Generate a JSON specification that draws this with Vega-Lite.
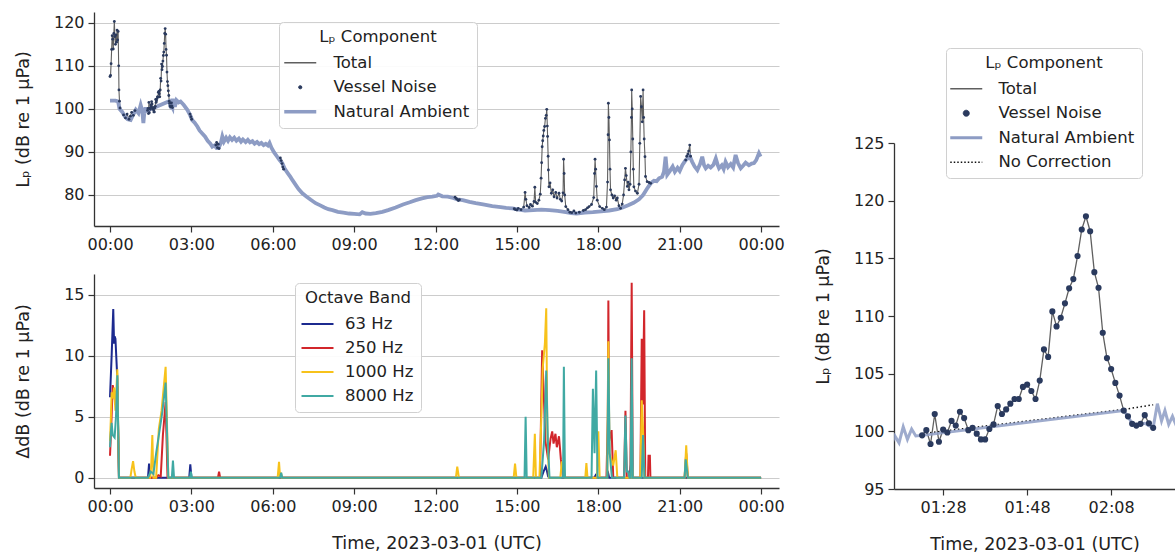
{
  "$schema": "https://vega.github.io/schema/vega-lite/v6.json",
  "padding": {"left": 14, "top": 12, "right": 0, "bottom": 0},
  "config": {
    "font": "DejaVu Sans",
    "view": {"stroke": null},
    "axis": {"domainColor": "#333333", "domainWidth": 1.3, "tickColor": "#333333", "tickWidth": 1.2, "tickSize": 6, "labelFontSize": 16, "labelColor": "#222222", "titleFontSize": 17.5, "titleFontWeight": "normal", "titleColor": "#222222", "labelPadding": 4, "titlePadding": 20, "gridColor": "#cccccc", "gridWidth": 1.1},
    "legend": {"labelFontSize": 16.5, "titleFontSize": 16.5, "titleFontWeight": "normal", "labelColor": "#222222", "titleColor": "#222222", "labelAlign": "left"}
  },
  "datasets": {
    "amb": [
      {"t":0,"v":101.9},{"t":0.1,"v":101.9},{"t":0.2,"v":101.9},{"t":0.3,"v":101.7},{"t":0.35,"v":100.0},{"t":0.45,"v":99.3},{"t":0.55,"v":98.2},{"t":0.65,"v":97.6},{"t":0.76,"v":97.4},{"t":0.85,"v":98.6},{"t":0.95,"v":99.8},{"t":1.05,"v":99.0},{"t":1.13,"v":100.9},{"t":1.19,"v":99.5},{"t":1.23,"v":96.7},
      {"t":1.2583,"v":98.7},{"t":1.275,"v":99.6},{"t":1.2917,"v":99.0},{"t":1.3083,"v":100.4},{"t":1.325,"v":99.3},{"t":1.3417,"v":100.2},{"t":1.3583,"v":99.6},{"t":1.3833,"v":99.65},{"t":2.1833,"v":101.8},{"t":2.2,"v":101.3},{"t":2.2167,"v":100.65},{"t":2.2333,"v":100.5},{"t":2.25,"v":100.6},{"t":2.2667,"v":100.7},{"t":2.2833,"v":100.5},{"t":2.3,"v":100.3},{"t":2.3167,"v":102.4},{"t":2.3333,"v":100.9},{"t":2.3467,"v":101.8},{"t":2.3617,"v":100.6},{"t":2.3767,"v":101.3},{"t":2.3917,"v":100.5},
      {"t":2.45,"v":102.0},{"t":2.53,"v":101.5},{"t":2.6,"v":101.7},{"t":2.72,"v":100.9},{"t":2.85,"v":99.8},{"t":2.95,"v":98.6},{"t":3.03,"v":97.4},{"t":3.12,"v":96.8},{"t":3.22,"v":95.9},{"t":3.3,"v":95.0},{"t":3.4,"v":94.3},{"t":3.5,"v":93.6},{"t":3.6,"v":92.6},{"t":3.7,"v":91.9},{"t":3.77,"v":91.2},{"t":3.85,"v":91.5},{"t":3.93,"v":90.9},{"t":4.0,"v":90.9},{"t":4.08,"v":92.0},{"t":4.14,"v":93.6},{"t":4.2,"v":92.4},{"t":4.28,"v":93.3},{"t":4.35,"v":92.6},{"t":4.42,"v":93.4},{"t":4.5,"v":92.8},{"t":4.58,"v":93.3},{"t":4.66,"v":92.6},{"t":4.75,"v":93.1},{"t":4.83,"v":92.4},{"t":4.9,"v":92.9},{"t":5.0,"v":92.3},{"t":5.08,"v":92.8},{"t":5.16,"v":92.2},{"t":5.25,"v":92.5},{"t":5.33,"v":91.9},{"t":5.42,"v":92.3},{"t":5.5,"v":91.8},{"t":5.58,"v":92.1},{"t":5.66,"v":91.6},{"t":5.74,"v":91.9},{"t":5.82,"v":91.5},{"t":5.88,"v":92.1},{"t":5.95,"v":91.0},{"t":6.05,"v":89.9},{"t":6.15,"v":89.0},{"t":6.25,"v":88.1},{"t":6.35,"v":87.4},{"t":6.45,"v":86.0},{"t":6.55,"v":85.1},{"t":6.65,"v":84.2},{"t":6.72,"v":83.5},{"t":6.85,"v":82.3},{"t":6.95,"v":81.4},{"t":7.09,"v":80.4},{"t":7.25,"v":79.6},{"t":7.4,"v":78.9},{"t":7.58,"v":78.1},{"t":7.75,"v":77.6},{"t":7.9,"v":77.1},{"t":8.05,"v":76.7},{"t":8.2,"v":76.5},{"t":8.4,"v":76.1},{"t":8.6,"v":75.9},{"t":8.81,"v":75.7},{"t":9.0,"v":75.6},{"t":9.2,"v":75.5},{"t":9.3,"v":76.0},{"t":9.42,"v":75.7},{"t":9.6,"v":75.6},{"t":9.8,"v":75.8},{"t":10.04,"v":76.1},{"t":10.25,"v":76.5},{"t":10.53,"v":77.1},{"t":10.8,"v":77.8},{"t":11.05,"v":78.3},{"t":11.27,"v":78.8},{"t":11.5,"v":79.2},{"t":11.7,"v":79.5},{"t":11.88,"v":79.6},{"t":12.05,"v":79.8},{"t":12.1,"v":80.1},{"t":12.25,"v":79.7},{"t":12.45,"v":79.6},{"t":12.65,"v":79.3},{"t":12.8,"v":79.0},{"t":13.0,"v":78.8},{"t":13.25,"v":78.4},{"t":13.48,"v":78.1},{"t":13.75,"v":77.8},{"t":14.09,"v":77.4},{"t":14.4,"v":77.2},{"t":14.6,"v":77.0},{"t":14.83,"v":76.9},{"t":15.07,"v":76.6},{"t":15.3,"v":76.4},{"t":15.6,"v":76.5},{"t":15.9,"v":76.6},{"t":16.2,"v":76.5},{"t":16.5,"v":76.3},{"t":16.8,"v":76.0},{"t":17.0,"v":75.8},{"t":17.2,"v":75.7},{"t":17.5,"v":75.9},{"t":17.8,"v":76.0},{"t":18.1,"v":76.2},{"t":18.4,"v":76.4},{"t":18.7,"v":76.7},{"t":18.9,"v":77.1},{"t":19.1,"v":77.6},{"t":19.3,"v":78.2},{"t":19.5,"v":79.0},{"t":19.65,"v":80.0},{"t":19.8,"v":81.5},{"t":19.93,"v":82.7},{"t":20.05,"v":83.3},{"t":20.15,"v":83.2},{"t":20.24,"v":83.9},{"t":20.35,"v":84.2},{"t":20.42,"v":85.4},{"t":20.48,"v":88.9},{"t":20.54,"v":84.7},{"t":20.64,"v":85.6},{"t":20.74,"v":86.6},{"t":20.82,"v":85.4},{"t":20.92,"v":86.3},{"t":21.0,"v":85.6},{"t":21.1,"v":87.0},{"t":21.22,"v":88.1},{"t":21.3,"v":88.5},{"t":21.37,"v":89.0},{"t":21.46,"v":87.7},{"t":21.55,"v":86.6},{"t":21.65,"v":85.8},{"t":21.75,"v":87.2},{"t":21.83,"v":88.9},{"t":21.9,"v":86.9},{"t":21.96,"v":86.2},{"t":22.05,"v":86.8},{"t":22.14,"v":86.4},{"t":22.24,"v":87.0},{"t":22.33,"v":88.5},{"t":22.4,"v":87.0},{"t":22.45,"v":86.2},{"t":22.55,"v":86.9},{"t":22.62,"v":86.0},{"t":22.69,"v":87.7},{"t":22.78,"v":86.5},{"t":22.88,"v":87.2},{"t":22.97,"v":86.4},{"t":23.06,"v":89.3},{"t":23.15,"v":87.4},{"t":23.25,"v":86.2},{"t":23.35,"v":86.9},{"t":23.43,"v":87.5},{"t":23.55,"v":86.9},{"t":23.65,"v":87.3},{"t":23.74,"v":87.4},{"t":23.82,"v":88.1},{"t":23.92,"v":89.7},{"t":23.98,"v":88.9}
    ],
    "ves": [
      {"t":0,"v":107.5,"e":1},{"t":0.02,"v":107.8,"e":1},{"t":0.04,"v":110.5,"e":1},{"t":0.06,"v":113.8,"e":1},{"t":0.08,"v":117.0,"e":1},{"t":0.1,"v":116.2,"e":1},{"t":0.12,"v":113.9,"e":1},{"t":0.14,"v":117.5,"e":1},{"t":0.16,"v":120.3,"e":1},{"t":0.18,"v":116.8,"e":1},{"t":0.2,"v":115.0,"e":1},{"t":0.22,"v":117.2,"e":1},{"t":0.24,"v":115.5,"e":1},{"t":0.26,"v":118.3,"e":1},{"t":0.28,"v":116.0,"e":1},{"t":0.3,"v":118.0,"e":1},{"t":0.32,"v":110.0,"e":1},{"t":0.33,"v":104.4,"e":1},{"t":0.35,"v":101.8,"e":1},{"t":0.37,"v":100.2,"e":1},
      {"t":0.5,"v":98.6,"e":2},{"t":0.57,"v":97.9,"e":2},{"t":0.63,"v":98.8,"e":2},{"t":0.7,"v":97.6,"e":2},{"t":0.75,"v":98.3,"e":2},{"t":0.8,"v":99.2,"e":2},{"t":0.86,"v":98.5,"e":2},{"t":0.92,"v":99.6,"e":2},
      {"t":1.3833,"v":99.65,"e":3},{"t":1.4,"v":100.1,"e":3},{"t":1.4167,"v":98.9,"e":3},{"t":1.4333,"v":101.5,"e":3},{"t":1.45,"v":99.1,"e":3},{"t":1.4667,"v":100.15,"e":3},{"t":1.4833,"v":99.9,"e":3},{"t":1.5,"v":100.9,"e":3},{"t":1.5167,"v":100.5,"e":3},{"t":1.5333,"v":101.7,"e":3},{"t":1.55,"v":101.15,"e":3},{"t":1.5667,"v":100.1,"e":3},{"t":1.5833,"v":100.3,"e":3},{"t":1.6,"v":99.8,"e":3},{"t":1.6167,"v":99.3,"e":3},{"t":1.6333,"v":99.3,"e":3},{"t":1.65,"v":100.2,"e":3},{"t":1.6667,"v":100.6,"e":3},{"t":1.6833,"v":102.2,"e":3},{"t":1.7,"v":101.5,"e":3},{"t":1.7167,"v":101.9,"e":3},{"t":1.7333,"v":102.4,"e":3},{"t":1.75,"v":102.8,"e":3},{"t":1.7667,"v":102.8,"e":3},{"t":1.7833,"v":103.85,"e":3},{"t":1.8,"v":104.05,"e":3},{"t":1.8167,"v":103.5,"e":3},{"t":1.8333,"v":102.8,"e":3},{"t":1.85,"v":104.4,"e":3},{"t":1.8667,"v":107.1,"e":3},{"t":1.8833,"v":106.45,"e":3},{"t":1.9,"v":110.4,"e":3},{"t":1.9167,"v":109.1,"e":3},{"t":1.9333,"v":109.85,"e":3},{"t":1.95,"v":111.1,"e":3},{"t":1.9667,"v":112.4,"e":3},{"t":1.9833,"v":113.2,"e":3},{"t":2.0,"v":115.2,"e":3},{"t":2.0167,"v":117.5,"e":3},{"t":2.0333,"v":118.65,"e":3},{"t":2.05,"v":117.35,"e":3},{"t":2.0667,"v":113.8,"e":3},{"t":2.0833,"v":112.45,"e":3},{"t":2.1,"v":108.55,"e":3},{"t":2.1167,"v":106.35,"e":3},{"t":2.1333,"v":105.4,"e":3},{"t":2.15,"v":104.2,"e":3},{"t":2.1667,"v":103.1,"e":3},{"t":2.1833,"v":101.8,"e":3},{"t":2.2,"v":101.3,"e":3},{"t":2.2167,"v":100.65,"e":3},{"t":2.2333,"v":100.5,"e":3},{"t":2.25,"v":100.65,"e":3},{"t":2.2667,"v":101.4,"e":3},{"t":2.2833,"v":100.7,"e":3},{"t":2.3,"v":100.3,"e":3},
      {"t":2.95,"v":98.8,"e":4},{"t":2.98,"v":98.2,"e":4},{"t":3.01,"v":97.6,"e":4},
      {"t":3.9,"v":91.6,"e":5},{"t":3.93,"v":92.2,"e":5},{"t":3.96,"v":91.0,"e":5},{"t":3.99,"v":91.8,"e":5},{"t":4.02,"v":90.8,"e":5},
      {"t":6.28,"v":88.6,"e":6},{"t":6.31,"v":88.0,"e":6},{"t":6.34,"v":87.3,"e":6},{"t":6.37,"v":86.5,"e":6},{"t":6.4,"v":86.0,"e":6},
      {"t":12.72,"v":79.5,"e":7},{"t":12.76,"v":79.2,"e":7},{"t":12.8,"v":79.0,"e":7},{"t":12.84,"v":78.7,"e":7},{"t":12.88,"v":78.9,"e":7},
      {"t":14.9,"v":76.8,"e":8},{"t":14.95,"v":76.6,"e":8},{"t":15.0,"v":76.5,"e":8},{"t":15.05,"v":76.9,"e":8},{"t":15.15,"v":76.6,"e":8},{"t":15.25,"v":77.2,"e":8},{"t":15.3,"v":80.6,"e":8},{"t":15.33,"v":79.0,"e":8},{"t":15.37,"v":77.5,"e":8},{"t":15.45,"v":77.1,"e":8},{"t":15.5,"v":77.8,"e":8},{"t":15.57,"v":77.4,"e":8},{"t":15.63,"v":78.5,"e":8},{"t":15.66,"v":81.8,"e":8},{"t":15.69,"v":78.3,"e":8},{"t":15.75,"v":78.0,"e":8},{"t":15.81,"v":78.8,"e":8},{"t":15.86,"v":80.2,"e":8},{"t":15.89,"v":83.9,"e":8},{"t":15.91,"v":87.5,"e":8},{"t":15.93,"v":91.2,"e":8},{"t":15.95,"v":92.6,"e":8},{"t":15.97,"v":93.7,"e":8},{"t":15.99,"v":95.0,"e":8},{"t":16.02,"v":95.9,"e":8},{"t":16.05,"v":97.8,"e":8},{"t":16.08,"v":98.5,"e":8},{"t":16.1,"v":99.9,"e":8},{"t":16.12,"v":96.0,"e":8},{"t":16.13,"v":93.6,"e":8},{"t":16.15,"v":89.0,"e":8},{"t":16.16,"v":85.8,"e":8},{"t":16.18,"v":81.9,"e":8},{"t":16.22,"v":82.8,"e":8},{"t":16.27,"v":80.4,"e":8},{"t":16.32,"v":81.2,"e":8},{"t":16.37,"v":79.6,"e":8},{"t":16.43,"v":80.6,"e":8},{"t":16.48,"v":79.3,"e":8},{"t":16.55,"v":80.4,"e":8},{"t":16.6,"v":79.0,"e":8},{"t":16.65,"v":78.6,"e":8},{"t":16.7,"v":80.5,"e":8},{"t":16.72,"v":88.3,"e":8},{"t":16.74,"v":85.0,"e":8},{"t":16.76,"v":80.0,"e":8},{"t":16.8,"v":77.3,"e":8},{"t":16.88,"v":76.6,"e":8},{"t":16.95,"v":76.0,"e":8},{"t":17.02,"v":75.9,"e":8},{"t":17.1,"v":76.3,"e":8},{"t":17.17,"v":75.8,"e":8},{"t":17.3,"v":76.0,"e":8},{"t":17.45,"v":76.4,"e":8},{"t":17.53,"v":76.6,"e":8},{"t":17.6,"v":77.0,"e":8},{"t":17.66,"v":77.3,"e":8},{"t":17.75,"v":77.8,"e":8},{"t":17.83,"v":79.4,"e":8},{"t":17.86,"v":85.0,"e":8},{"t":17.88,"v":88.3,"e":8},{"t":17.9,"v":86.0,"e":8},{"t":17.93,"v":82.0,"e":8},{"t":17.96,"v":78.8,"e":8},{"t":18.05,"v":77.3,"e":8},{"t":18.15,"v":76.9,"e":8},{"t":18.22,"v":76.6,"e":8},{"t":18.3,"v":77.2,"e":8},{"t":18.34,"v":83.0,"e":8},{"t":18.36,"v":94.0,"e":8},{"t":18.37,"v":101.3,"e":8},{"t":18.39,"v":98.0,"e":8},{"t":18.41,"v":92.8,"e":8},{"t":18.43,"v":86.0,"e":8},{"t":18.45,"v":81.2,"e":8},{"t":18.5,"v":80.0,"e":8},{"t":18.55,"v":79.3,"e":8},{"t":18.6,"v":79.8,"e":8},{"t":18.66,"v":78.8,"e":8},{"t":18.7,"v":79.3,"e":8},{"t":18.76,"v":77.5,"e":8},{"t":18.82,"v":76.9,"e":8},{"t":18.88,"v":77.9,"e":8},{"t":18.93,"v":80.0,"e":8},{"t":18.97,"v":83.5,"e":8},{"t":19.0,"v":86.2,"e":8},{"t":19.03,"v":84.5,"e":8},{"t":19.07,"v":82.0,"e":8},{"t":19.1,"v":83.0,"e":8},{"t":19.13,"v":81.2,"e":8},{"t":19.17,"v":82.5,"e":8},{"t":19.2,"v":90.0,"e":8},{"t":19.22,"v":98.0,"e":8},{"t":19.23,"v":104.4,"e":8},{"t":19.25,"v":100.0,"e":8},{"t":19.27,"v":93.0,"e":8},{"t":19.29,"v":86.0,"e":8},{"t":19.31,"v":81.9,"e":8},{"t":19.37,"v":80.9,"e":8},{"t":19.44,"v":80.4,"e":8},{"t":19.5,"v":82.5,"e":8},{"t":19.53,"v":92.0,"e":8},{"t":19.56,"v":102.9,"e":8},{"t":19.59,"v":100.5,"e":8},{"t":19.62,"v":97.0,"e":8},{"t":19.65,"v":104.4,"e":8},{"t":19.67,"v":98.0,"e":8},{"t":19.69,"v":93.0,"e":8},{"t":19.72,"v":88.9,"e":8},{"t":19.74,"v":84.3,"e":8},{"t":19.8,"v":83.1,"e":8},{"t":19.87,"v":82.9,"e":8},{"t":19.93,"v":82.7,"e":8},
      {"t":21.22,"v":88.1,"e":9},{"t":21.26,"v":89.0,"e":9},{"t":21.3,"v":89.5,"e":9},{"t":21.33,"v":90.2,"e":9},{"t":21.37,"v":91.6,"e":9},{"t":21.4,"v":89.0,"e":9}
    ],
    "noc": [
      {"t":1.3833,"v":99.8},{"t":2.1833,"v":101.9},{"t":2.3,"v":102.3}
    ],
    "band": [
      {"t":0,"v":6.6,"b":"63 Hz"},{"t":0.06,"v":10.0,"b":"63 Hz"},{"t":0.12,"v":13.85,"b":"63 Hz"},{"t":0.15,"v":11.0,"b":"63 Hz"},{"t":0.17,"v":11.6,"b":"63 Hz"},{"t":0.2,"v":11.4,"b":"63 Hz"},{"t":0.27,"v":8.1,"b":"63 Hz"},{"t":0.33,"v":0,"b":"63 Hz"},{"t":1.4,"v":0,"b":"63 Hz"},{"t":1.44,"v":1.15,"b":"63 Hz"},{"t":1.48,"v":0,"b":"63 Hz"},{"t":2.92,"v":0,"b":"63 Hz"},{"t":2.96,"v":1.1,"b":"63 Hz"},{"t":3.0,"v":0,"b":"63 Hz"},{"t":15.9,"v":0,"b":"63 Hz"},{"t":15.98,"v":0.5,"b":"63 Hz"},{"t":16.06,"v":0.9,"b":"63 Hz"},{"t":16.1,"v":0.6,"b":"63 Hz"},{"t":16.15,"v":0.1,"b":"63 Hz"},{"t":16.2,"v":0,"b":"63 Hz"},{"t":17.85,"v":0,"b":"63 Hz"},{"t":17.9,"v":0.2,"b":"63 Hz"},{"t":17.95,"v":0,"b":"63 Hz"},{"t":18.33,"v":0,"b":"63 Hz"},{"t":18.37,"v":0.3,"b":"63 Hz"},{"t":18.4,"v":0,"b":"63 Hz"},{"t":19.15,"v":0,"b":"63 Hz"},{"t":19.2,"v":1.0,"b":"63 Hz"},{"t":19.25,"v":0,"b":"63 Hz"},{"t":24,"v":0,"b":"63 Hz"},
      {"t":0,"v":1.8,"b":"250 Hz"},{"t":0.05,"v":4.5,"b":"250 Hz"},{"t":0.1,"v":7.6,"b":"250 Hz"},{"t":0.15,"v":7.0,"b":"250 Hz"},{"t":0.2,"v":6.0,"b":"250 Hz"},{"t":0.27,"v":7.5,"b":"250 Hz"},{"t":0.33,"v":0,"b":"250 Hz"},{"t":1.7,"v":0,"b":"250 Hz"},{"t":1.78,"v":0.2,"b":"250 Hz"},{"t":1.87,"v":0.1,"b":"250 Hz"},{"t":1.95,"v":3.5,"b":"250 Hz"},{"t":2.05,"v":6.2,"b":"250 Hz"},{"t":2.12,"v":0,"b":"250 Hz"},{"t":3.98,"v":0,"b":"250 Hz"},{"t":4.02,"v":0.5,"b":"250 Hz"},{"t":4.06,"v":0,"b":"250 Hz"},{"t":15.85,"v":0,"b":"250 Hz"},{"t":15.93,"v":10.45,"b":"250 Hz"},{"t":15.97,"v":8.0,"b":"250 Hz"},{"t":16.05,"v":3.0,"b":"250 Hz"},{"t":16.15,"v":1.5,"b":"250 Hz"},{"t":16.24,"v":3.2,"b":"250 Hz"},{"t":16.3,"v":3.8,"b":"250 Hz"},{"t":16.35,"v":2.8,"b":"250 Hz"},{"t":16.42,"v":3.6,"b":"250 Hz"},{"t":16.47,"v":2.5,"b":"250 Hz"},{"t":16.55,"v":3.4,"b":"250 Hz"},{"t":16.62,"v":1.5,"b":"250 Hz"},{"t":16.7,"v":0,"b":"250 Hz"},{"t":18.3,"v":0,"b":"250 Hz"},{"t":18.35,"v":5.0,"b":"250 Hz"},{"t":18.37,"v":14.55,"b":"250 Hz"},{"t":18.4,"v":3.0,"b":"250 Hz"},{"t":18.49,"v":3.9,"b":"250 Hz"},{"t":18.55,"v":0,"b":"250 Hz"},{"t":18.95,"v":0,"b":"250 Hz"},{"t":19.0,"v":5.5,"b":"250 Hz"},{"t":19.05,"v":0,"b":"250 Hz"},{"t":19.18,"v":0,"b":"250 Hz"},{"t":19.23,"v":16.0,"b":"250 Hz"},{"t":19.27,"v":0,"b":"250 Hz"},{"t":19.55,"v":0,"b":"250 Hz"},{"t":19.6,"v":11.4,"b":"250 Hz"},{"t":19.64,"v":6.0,"b":"250 Hz"},{"t":19.69,"v":13.75,"b":"250 Hz"},{"t":19.73,"v":0,"b":"250 Hz"},{"t":19.83,"v":0,"b":"250 Hz"},{"t":19.85,"v":1.8,"b":"250 Hz"},{"t":19.9,"v":1.8,"b":"250 Hz"},{"t":19.92,"v":0,"b":"250 Hz"},{"t":21.18,"v":0,"b":"250 Hz"},{"t":21.24,"v":2.0,"b":"250 Hz"},{"t":21.3,"v":0,"b":"250 Hz"},{"t":24,"v":0,"b":"250 Hz"},
      {"t":0,"v":3.0,"b":"1000 Hz"},{"t":0.03,"v":4.8,"b":"1000 Hz"},{"t":0.06,"v":7.0,"b":"1000 Hz"},{"t":0.1,"v":6.5,"b":"1000 Hz"},{"t":0.15,"v":7.4,"b":"1000 Hz"},{"t":0.2,"v":5.5,"b":"1000 Hz"},{"t":0.27,"v":8.9,"b":"1000 Hz"},{"t":0.33,"v":0,"b":"1000 Hz"},{"t":0.75,"v":0,"b":"1000 Hz"},{"t":0.79,"v":0.6,"b":"1000 Hz"},{"t":0.85,"v":1.35,"b":"1000 Hz"},{"t":0.9,"v":0.5,"b":"1000 Hz"},{"t":0.95,"v":0,"b":"1000 Hz"},{"t":1.48,"v":0,"b":"1000 Hz"},{"t":1.52,"v":1.0,"b":"1000 Hz"},{"t":1.56,"v":3.5,"b":"1000 Hz"},{"t":1.6,"v":0,"b":"1000 Hz"},{"t":1.7,"v":0,"b":"1000 Hz"},{"t":1.8,"v":4.0,"b":"1000 Hz"},{"t":1.9,"v":5.5,"b":"1000 Hz"},{"t":2.05,"v":9.1,"b":"1000 Hz"},{"t":2.15,"v":0,"b":"1000 Hz"},{"t":6.18,"v":0,"b":"1000 Hz"},{"t":6.23,"v":1.3,"b":"1000 Hz"},{"t":6.27,"v":0,"b":"1000 Hz"},{"t":6.3,"v":0.4,"b":"1000 Hz"},{"t":6.34,"v":0,"b":"1000 Hz"},{"t":12.75,"v":0,"b":"1000 Hz"},{"t":12.8,"v":0.9,"b":"1000 Hz"},{"t":12.86,"v":0,"b":"1000 Hz"},{"t":14.88,"v":0,"b":"1000 Hz"},{"t":14.93,"v":1.15,"b":"1000 Hz"},{"t":14.98,"v":0,"b":"1000 Hz"},{"t":15.6,"v":0,"b":"1000 Hz"},{"t":15.66,"v":3.6,"b":"1000 Hz"},{"t":15.7,"v":0,"b":"1000 Hz"},{"t":15.83,"v":0,"b":"1000 Hz"},{"t":15.9,"v":5.0,"b":"1000 Hz"},{"t":15.95,"v":9.0,"b":"1000 Hz"},{"t":16.03,"v":11.0,"b":"1000 Hz"},{"t":16.08,"v":13.9,"b":"1000 Hz"},{"t":16.12,"v":4.0,"b":"1000 Hz"},{"t":16.18,"v":0,"b":"1000 Hz"},{"t":16.6,"v":0,"b":"1000 Hz"},{"t":16.65,"v":1.2,"b":"1000 Hz"},{"t":16.72,"v":1.0,"b":"1000 Hz"},{"t":16.78,"v":0,"b":"1000 Hz"},{"t":17.52,"v":0,"b":"1000 Hz"},{"t":17.56,"v":1.2,"b":"1000 Hz"},{"t":17.6,"v":0,"b":"1000 Hz"},{"t":17.95,"v":0,"b":"1000 Hz"},{"t":18.0,"v":3.8,"b":"1000 Hz"},{"t":18.05,"v":0,"b":"1000 Hz"},{"t":18.33,"v":0,"b":"1000 Hz"},{"t":18.37,"v":11.2,"b":"1000 Hz"},{"t":18.41,"v":2.0,"b":"1000 Hz"},{"t":18.55,"v":1.0,"b":"1000 Hz"},{"t":18.64,"v":2.25,"b":"1000 Hz"},{"t":18.7,"v":0,"b":"1000 Hz"},{"t":19.2,"v":0,"b":"1000 Hz"},{"t":19.23,"v":1.5,"b":"1000 Hz"},{"t":19.27,"v":0,"b":"1000 Hz"},{"t":19.55,"v":0,"b":"1000 Hz"},{"t":19.6,"v":6.35,"b":"1000 Hz"},{"t":19.65,"v":4.0,"b":"1000 Hz"},{"t":19.7,"v":0,"b":"1000 Hz"},{"t":21.18,"v":0,"b":"1000 Hz"},{"t":21.24,"v":2.65,"b":"1000 Hz"},{"t":21.3,"v":0,"b":"1000 Hz"},{"t":24,"v":0,"b":"1000 Hz"},
      {"t":0,"v":2.5,"b":"8000 Hz"},{"t":0.03,"v":3.7,"b":"8000 Hz"},{"t":0.06,"v":4.5,"b":"8000 Hz"},{"t":0.1,"v":3.5,"b":"8000 Hz"},{"t":0.17,"v":3.3,"b":"8000 Hz"},{"t":0.22,"v":5.0,"b":"8000 Hz"},{"t":0.27,"v":8.4,"b":"8000 Hz"},{"t":0.33,"v":0,"b":"8000 Hz"},{"t":1.4,"v":0,"b":"8000 Hz"},{"t":1.5,"v":0.5,"b":"8000 Hz"},{"t":1.6,"v":0.3,"b":"8000 Hz"},{"t":1.7,"v":2.0,"b":"8000 Hz"},{"t":1.93,"v":5.4,"b":"8000 Hz"},{"t":2.05,"v":7.8,"b":"8000 Hz"},{"t":2.15,"v":0,"b":"8000 Hz"},{"t":2.28,"v":0,"b":"8000 Hz"},{"t":2.32,"v":1.4,"b":"8000 Hz"},{"t":2.36,"v":0,"b":"8000 Hz"},{"t":2.95,"v":0,"b":"8000 Hz"},{"t":2.98,"v":0.5,"b":"8000 Hz"},{"t":3.02,"v":0,"b":"8000 Hz"},{"t":6.27,"v":0,"b":"8000 Hz"},{"t":6.31,"v":0.4,"b":"8000 Hz"},{"t":6.35,"v":0,"b":"8000 Hz"},{"t":15.28,"v":0,"b":"8000 Hz"},{"t":15.32,"v":5.0,"b":"8000 Hz"},{"t":15.36,"v":0,"b":"8000 Hz"},{"t":15.9,"v":0,"b":"8000 Hz"},{"t":16.0,"v":3.0,"b":"8000 Hz"},{"t":16.08,"v":8.8,"b":"8000 Hz"},{"t":16.14,"v":3.0,"b":"8000 Hz"},{"t":16.2,"v":0,"b":"8000 Hz"},{"t":16.7,"v":0,"b":"8000 Hz"},{"t":16.73,"v":9.1,"b":"8000 Hz"},{"t":16.77,"v":0,"b":"8000 Hz"},{"t":17.75,"v":0,"b":"8000 Hz"},{"t":17.8,"v":7.3,"b":"8000 Hz"},{"t":17.86,"v":2.0,"b":"8000 Hz"},{"t":17.92,"v":8.8,"b":"8000 Hz"},{"t":17.97,"v":0,"b":"8000 Hz"},{"t":18.33,"v":0,"b":"8000 Hz"},{"t":18.37,"v":9.8,"b":"8000 Hz"},{"t":18.42,"v":2.0,"b":"8000 Hz"},{"t":18.5,"v":0,"b":"8000 Hz"},{"t":18.95,"v":0,"b":"8000 Hz"},{"t":19.0,"v":5.1,"b":"8000 Hz"},{"t":19.05,"v":0.5,"b":"8000 Hz"},{"t":19.1,"v":0.5,"b":"8000 Hz"},{"t":19.15,"v":0,"b":"8000 Hz"},{"t":19.19,"v":0,"b":"8000 Hz"},{"t":19.23,"v":9.8,"b":"8000 Hz"},{"t":19.27,"v":0,"b":"8000 Hz"},{"t":19.6,"v":0,"b":"8000 Hz"},{"t":19.65,"v":3.5,"b":"8000 Hz"},{"t":19.7,"v":0,"b":"8000 Hz"},{"t":21.18,"v":0,"b":"8000 Hz"},{"t":21.22,"v":1.5,"b":"8000 Hz"},{"t":21.3,"v":0,"b":"8000 Hz"},{"t":24,"v":0,"b":"8000 Hz"}
    ]
  },
  "hconcat": [
    {
      "vconcat": [
        {
          "width": 685, "height": 214,
          "encoding": {
            "x": {"field": "t", "type": "quantitative", "scale": {"domain": [-0.59, 24.66], "nice": false, "zero": false}, "axis": {"values": [0,3,6,9,12,15,18,21,24], "labelExpr": "utcFormat(round(datum.value*60)*60000, '%H:%M')", "title": null, "labelFlush": false, "grid": false}},
            "y": {"field": "v", "type": "quantitative", "scale": {"domain": [72.8, 122.5], "nice": false, "zero": false}, "axis": {"values": [80,90,100,110,120], "grid": true, "title": "Lₚ (dB re 1 μPa)", "minExtent": 42}}
          },
          "layer": [
            {"data": {"name": "ves"}, "mark": {"type": "line", "strokeWidth": 1.1},
             "encoding": {"detail": {"field": "e", "type": "nominal"},
               "color": {"datum": "Total", "type": "nominal",
                 "scale": {"domain": ["Total", "Vessel Noise", "Natural Ambient"], "range": ["#5f5f5f", "#2a3a5e", "#8d9cc4"]},
                 "legend": {"orient": "none", "legendX": 185, "legendY": 10, "direction": "vertical", "title": "Lₚ Component", "titleAnchor": "middle", "titlePadding": 9, "fillColor": "rgba(255,255,255,0.92)", "strokeColor": "#d0d0d0", "cornerRadius": 4, "padding": 7, "rowPadding": 7.5, "symbolType": "M-2,0H2", "symbolSize": 256, "symbolOffset": 6, "labelOffset": 25,
                   "encode": {"symbols": {"update": {
                     "shape": {"signal": "datum.value === 'Vessel Noise' ? 'circle' : 'M-2,0H2'"},
                     "size": {"signal": "datum.value === 'Vessel Noise' ? 10 : 256"},
                     "strokeWidth": {"signal": "datum.value === 'Natural Ambient' ? 3.5 : datum.value === 'Vessel Noise' ? 1 : 1.3"},
                     "fill": {"signal": "datum.value === 'Vessel Noise' ? '#2a3a5e' : 'transparent'"},
                     "stroke": {"signal": "datum.value === 'Total' ? '#5f5f5f' : datum.value === 'Natural Ambient' ? '#8d9cc4' : '#2a3a5e'"},
                     "opacity": {"value": 1}
                   }}}}}}},
            {"data": {"name": "amb"}, "mark": {"type": "line", "strokeWidth": 3.8},
             "encoding": {"color": {"datum": "Natural Ambient", "type": "nominal"}}},
            {"data": {"name": "ves"}, "mark": {"type": "point", "filled": true, "size": 8, "opacity": 1},
             "encoding": {"color": {"datum": "Vessel Noise", "type": "nominal"}}}
          ]
        },
        {
          "width": 685, "height": 214,
          "data": {"name": "band"},
          "mark": {"type": "line", "strokeWidth": 2},
          "encoding": {
            "x": {"field": "t", "type": "quantitative", "scale": {"domain": [-0.59, 24.66], "nice": false, "zero": false}, "axis": {"values": [0,3,6,9,12,15,18,21,24], "labelExpr": "utcFormat(round(datum.value*60)*60000, '%H:%M')", "title": "Time, 2023-03-01 (UTC)", "labelFlush": false, "grid": false}},
            "y": {"field": "v", "type": "quantitative", "scale": {"domain": [-0.85, 16.72], "nice": false, "zero": false}, "axis": {"values": [0,5,10,15], "grid": true, "title": "ΔdB (dB re 1 μPa)", "minExtent": 42}},
            "color": {"field": "b", "type": "nominal",
              "scale": {"domain": ["63 Hz", "250 Hz", "1000 Hz", "8000 Hz"], "range": ["#1c2a8f", "#d2262b", "#f7c21b", "#40a9a3"]},
              "legend": {"orient": "none", "legendX": 201, "legendY": 9, "direction": "vertical", "title": "Octave Band", "titleAnchor": "middle", "titlePadding": 8, "fillColor": "rgba(255,255,255,0.92)", "strokeColor": "#d0d0d0", "cornerRadius": 4, "padding": 7, "rowPadding": 6, "symbolType": "M-2,0H2", "symbolSize": 256, "symbolOffset": 6, "labelOffset": 18, "labelAlign": "left", "symbolStrokeWidth": 2.2}}
          }
        }
      ],
      "spacing": 22,
      "resolve": {"scale": {"color": "independent"}, "legend": {"color": "independent"}}
    },
    {
      "vconcat": [
        {"width": 281, "height": 131, "data": {"values": [{"t": 0}]}, "mark": {"type": "point", "opacity": 0}, "encoding": {"x": {"field": "t", "type": "quantitative", "axis": null}}},
        {
          "width": 281, "height": 346,
          "encoding": {
            "x": {"field": "t", "type": "quantitative", "scale": {"domain": [1.2717, 2.3867], "nice": false, "zero": false}, "axis": {"values": [1.4666667, 1.8, 2.1333333], "labelExpr": "utcFormat(round(datum.value*60)*60000, '%H:%M')", "title": "Time, 2023-03-01 (UTC)", "labelFlush": false, "grid": false}},
            "y": {"field": "v", "type": "quantitative", "scale": {"domain": [95, 125], "nice": false, "zero": false}, "axis": {"values": [95,100,105,110,115,120,125], "grid": false, "title": "Lₚ (dB re 1 μPa)", "minExtent": 42}}
          },
          "layer": [
            {"data": {"name": "ves"}, "mark": {"type": "line", "strokeWidth": 1.3, "clip": true},
             "encoding": {"detail": {"field": "e", "type": "nominal"},
               "color": {"datum": "Total", "type": "nominal",
                 "scale": {"domain": ["Total", "Vessel Noise", "Natural Ambient", "No Correction"], "range": ["#5f5f5f", "#2a3a5e", "#8d9cc4", "#111111"]},
                 "legend": {"orient": "none", "legendX": 52, "legendY": -95, "direction": "vertical", "title": "Lₚ Component", "titleAnchor": "middle", "titlePadding": 9, "fillColor": "rgba(255,255,255,0.92)", "strokeColor": "#d0d0d0", "cornerRadius": 4, "padding": 7, "rowPadding": 7.5, "symbolType": "M-2,0H2", "symbolSize": 256, "symbolOffset": 5, "labelOffset": 24,
                   "encode": {"symbols": {"update": {
                     "shape": {"signal": "datum.value === 'Vessel Noise' ? 'circle' : 'M-2,0H2'"},
                     "size": {"signal": "datum.value === 'Vessel Noise' ? 36 : 256"},
                     "strokeWidth": {"signal": "datum.value === 'Natural Ambient' ? 3 : datum.value === 'Vessel Noise' ? 1 : 1.4"},
                     "strokeDash": {"signal": "datum.value === 'No Correction' ? [1.5, 2] : [1, 0]"},
                     "fill": {"signal": "datum.value === 'Vessel Noise' ? '#2a3a5e' : 'transparent'"},
                     "stroke": {"signal": "datum.value === 'Total' ? '#5f5f5f' : datum.value === 'Natural Ambient' ? '#8d9cc4' : datum.value === 'No Correction' ? '#111111' : '#2a3a5e'"},
                     "opacity": {"value": 1}
                   }}}}}}},
            {"data": {"name": "noc"}, "mark": {"type": "line", "strokeWidth": 1.5, "strokeDash": [1.5, 2.5], "clip": true},
             "encoding": {"color": {"datum": "No Correction", "type": "nominal"}}},
            {"data": {"name": "amb"}, "mark": {"type": "line", "strokeWidth": 3, "opacity": 0.85, "clip": true},
             "encoding": {"color": {"datum": "Natural Ambient", "type": "nominal"}}},
            {"data": {"name": "ves"}, "mark": {"type": "point", "filled": true, "size": 38, "opacity": 1, "clip": true},
             "encoding": {"color": {"datum": "Vessel Noise", "type": "nominal"}}}
          ]
        }
      ],
      "spacing": 0,
      "bounds": "flush",
      "resolve": {"scale": {"color": "independent"}, "legend": {"color": "independent"}}
    }
  ],
  "spacing": 29,
  "resolve": {"scale": {"color": "independent"}, "legend": {"color": "independent"}}
}
